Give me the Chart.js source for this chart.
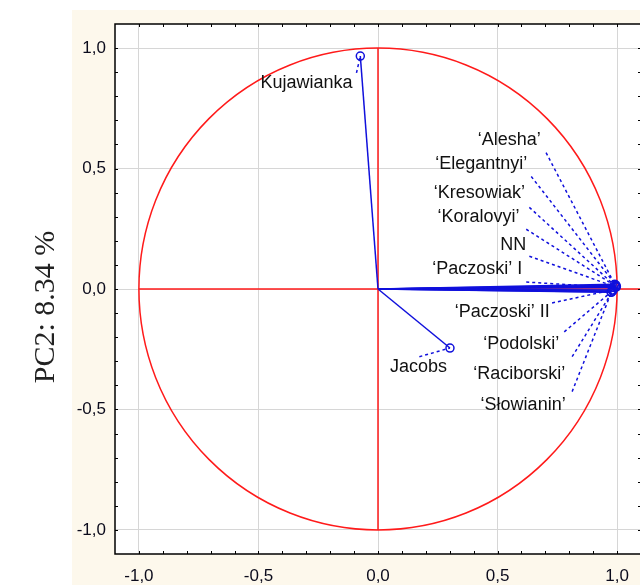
<!DOCTYPE html>
<html lang="pl">
<head>
  <meta charset="UTF-8">
  <title>PCA - korelacje</title>
  <script src="https://cdn.jsdelivr.net/npm/chart.js"></script>
  <style>
    html, body { margin: 0; padding: 0; overflow: hidden; background: #fff; width: 640px; height: 585px; }
    #cream { position: absolute; left: 72px; top: 10px; right: 0; bottom: 0; background: #fdf8ec; }
    #chart-container { position: absolute; left: 0; top: 0; width: 650px; height: 585px; }
  </style>
</head>
<body>
  <div id="cream"></div>
  <div id="chart-container">
    <canvas id="pcaChart"></canvas>
  </div>

  <script>
    // odmiany i ich ładunki na PC1 / PC2
    const cultivars = ['Kujawianka', 'Jacobs', '‘Alesha’', '‘Elegantnyi’', '‘Kresowiak’', '‘Koralovyi’', 'NN',
      '‘Paczoski’ I', '‘Paczoski’ II', '‘Podolski’', '‘Raciborski’', '‘Słowianin’'];
    const pc1 = [-0.074, 0.301, 0.990, 0.995, 0.993, 0.997, 0.996, 0.985, 0.980, 0.975, 0.982, 0.976];
    const pc2 = [0.967, -0.245, 0.020, 0.016, 0.012, 0.010, 0.008, 0.006, -0.004, -0.012, -0.008, -0.014];

    // gdzie stoją podpisy i skąd wychodzą linie odniesienia (w jednostkach osi)
    const labelAt = [[-0.299, 0.855], [0.169, -0.322], [0.549, 0.620], [0.432, 0.517], [0.424, 0.397], [0.420, 0.298],
      [0.566, 0.182], [0.415, 0.083], [0.520, -0.095], [0.599, -0.227], [0.591, -0.355], [0.607, -0.483]];
    const leaderFrom = [[-0.090, 0.897], [0.173, -0.281], [0.703, 0.566], [0.641, 0.467], [0.633, 0.339], [0.620, 0.248],
      [0.633, 0.136], [0.620, 0.029], [0.728, -0.058], [0.779, -0.178], [0.812, -0.281], [0.812, -0.426]];

    const axisMin = -1.1, axisMax = 1.1;
    const tickValues = [];
    for (let i = -10; i <= 10; i++) tickValues.push(i / 10);

    const blue = '#1010dc';
    const red = '#ff1a1a';

    const datasets = [];
    cultivars.forEach((name, i) => {
      // wektor od środka do punktu
      datasets.push({
        label: name,
        data: [{ x: 0, y: 0 }, { x: pc1[i], y: pc2[i] }],
        borderColor: blue,
        borderWidth: 1.5,
        pointRadius: [0, 4],
        pointBorderColor: blue,
        pointBackgroundColor: 'transparent',
        pointBorderWidth: 1.5,
        showLine: true
      });
      // linia przerywana od podpisu
      datasets.push({
        label: name + ' (opis)',
        data: [{ x: leaderFrom[i][0], y: leaderFrom[i][1] }, { x: pc1[i], y: pc2[i] }],
        borderColor: blue,
        borderWidth: 1.5,
        borderDash: [3, 3],
        pointRadius: 0,
        showLine: true
      });
    });

    const isMajor = v => Math.abs(v * 2 - Math.round(v * 2)) < 1e-6;

    const plotDecor = {
      id: 'plotDecor',
      beforeDraw(chart) {
        const { ctx, chartArea: a } = chart;
        ctx.save();
        ctx.fillStyle = '#ffffff';
        ctx.fillRect(a.left, a.top, a.right - a.left, a.bottom - a.top);
        ctx.restore();
      },
      beforeDatasetsDraw(chart) {
        const { ctx, scales: { x, y } } = chart;
        const cx = x.getPixelForValue(0), cy = y.getPixelForValue(0);
        ctx.save();
        ctx.strokeStyle = red;
        ctx.lineWidth = 1.5;
        ctx.beginPath();
        ctx.ellipse(cx, cy, x.getPixelForValue(1) - cx, cy - y.getPixelForValue(1), 0, 0, Math.PI * 2);
        ctx.stroke();
        ctx.beginPath();
        ctx.moveTo(cx, y.getPixelForValue(1));
        ctx.lineTo(cx, y.getPixelForValue(-1));
        ctx.moveTo(x.getPixelForValue(-1), cy);
        ctx.lineTo(x.getPixelForValue(axisMax), cy);
        ctx.stroke();
        ctx.restore();
      },
      afterDraw(chart) {
        const { ctx, chartArea: a, scales: { x, y } } = chart;
        ctx.save();
        // ramka i kreski podziałki do środka
        ctx.strokeStyle = '#000';
        ctx.lineWidth = 1.5;
        ctx.strokeRect(a.left, a.top, a.right - a.left, a.bottom - a.top);
        ctx.lineWidth = 1;
        ctx.beginPath();
        tickValues.forEach(v => {
          const px = Math.round(x.getPixelForValue(v)) + 0.5;
          const py = Math.round(y.getPixelForValue(v)) + 0.5;
          ctx.moveTo(px, a.bottom); ctx.lineTo(px, a.bottom - 3);
          ctx.moveTo(px, a.top); ctx.lineTo(px, a.top + 3);
          ctx.moveTo(a.left, py); ctx.lineTo(a.left + 3, py);
          ctx.moveTo(a.right, py); ctx.lineTo(a.right - 3, py);
        });
        ctx.stroke();

        // podpisy odmian
        ctx.fillStyle = '#111';
        ctx.font = '18px "Liberation Sans", Arial, sans-serif';
        ctx.textAlign = 'center';
        ctx.textBaseline = 'middle';
        cultivars.forEach((name, i) => {
          ctx.fillText(name, x.getPixelForValue(labelAt[i][0]), y.getPixelForValue(labelAt[i][1]));
        });

        // tytuł osi Y
        ctx.translate(46, 307);
        ctx.rotate(-Math.PI / 2);
        ctx.fillStyle = '#222';
        ctx.font = '30px "Liberation Serif", "Times New Roman", serif';
        ctx.fillText('PC2: 8.34 %', 0, 0);
        ctx.restore();
      }
    };

    const axisCommon = {
      type: 'linear',
      min: axisMin,
      max: axisMax,
      afterBuildTicks: scale => { scale.ticks = tickValues.map(v => ({ value: v })); },
      grid: {
        drawTicks: false,
        color: c => (c.tick && isMajor(c.tick.value)) ? '#d6d6d6' : 'rgba(0,0,0,0)',
        lineWidth: 1
      },
      border: { display: false },
      ticks: {
        autoSkip: false,
        maxRotation: 0,
        color: '#0b0b1c',
        font: { family: '"Liberation Sans", Arial, sans-serif', size: 17 },
        callback: v => isMajor(v) ? v.toFixed(1).replace('.', ',') : ''
      }
    };

    const ctx = document.getElementById('pcaChart').getContext('2d');
    new Chart(ctx, {
      type: 'scatter',
      data: { datasets },
      options: {
        responsive: true,
        maintainAspectRatio: false,
        animation: false,
        layout: { padding: { top: 24, right: 9, left: 0, bottom: 0 } },
        plugins: { legend: { display: false }, tooltip: { enabled: false } },
        scales: {
          x: Object.assign({}, axisCommon, {
            afterFit: s => { s.height = 31; },
            ticks: Object.assign({}, axisCommon.ticks, { padding: 12 })
          }),
          y: Object.assign({}, axisCommon, {
            afterFit: s => { s.width = 115; },
            ticks: Object.assign({}, axisCommon.ticks, { padding: 9 })
          })
        }
      },
      plugins: [plotDecor]
    });
  </script>
</body>
</html>
